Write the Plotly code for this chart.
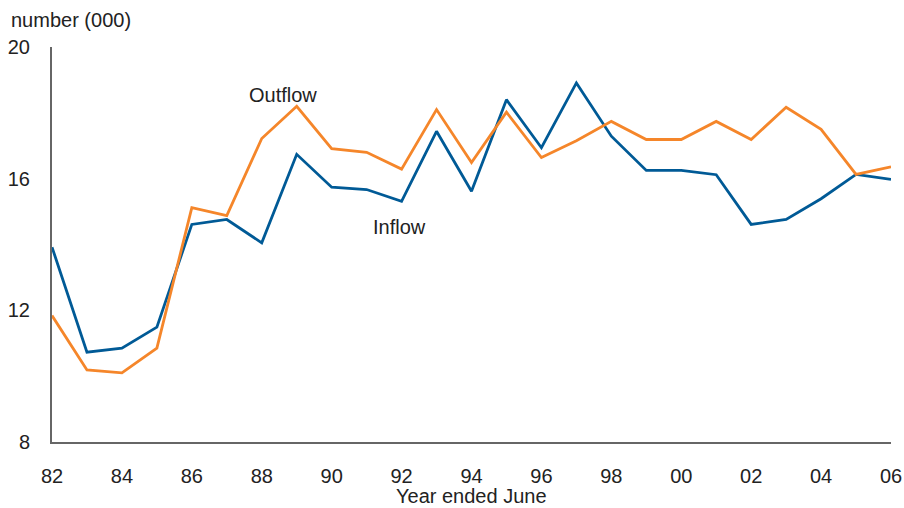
import plotly.graph_objects as go

years = list(range(1982, 2007))
inflow = [13.92, 10.73, 10.85, 11.49, 14.61, 14.76, 14.05, 16.74, 15.74, 15.67,
          15.31, 17.44, 15.62, 18.40, 16.94, 18.91, 17.29, 16.25, 16.25, 16.12,
          14.61, 14.76, 15.39, 16.13, 15.98]
outflow = [11.84, 10.19, 10.10, 10.85, 15.12, 14.88, 17.22, 18.20, 16.91, 16.80,
           16.29, 18.10, 16.49, 18.02, 16.64, 17.15, 17.74, 17.19, 17.19, 17.74,
           17.19, 18.17, 17.50, 16.13, 16.36]
tick_years = list(range(1982, 2007, 2))
tick_labels = [f"{y % 100:02d}" for y in tick_years]
y_ticks = [8, 12, 16, 20]

BLUE = "#005a96"
ORANGE = "#f5862a"
AXIS = "#666666"
TXT = "#222222"
FONT = "Liberation Sans, Arial, sans-serif"

fig = go.Figure()
fig.add_trace(go.Scatter(x=years, y=inflow, mode="lines", name="Inflow",
                         line=dict(color=BLUE, width=2.8), showlegend=False))
fig.add_trace(go.Scatter(x=years, y=outflow, mode="lines", name="Outflow",
                         line=dict(color=ORANGE, width=2.8), showlegend=False))

fig.add_annotation(x=1988.6, y=18.53, text="Outflow", showarrow=False,
                   font=dict(family=FONT, size=20, color=TXT))
fig.add_annotation(x=1991.93, y=14.52, text="Inflow", showarrow=False,
                   font=dict(family=FONT, size=20, color=TXT))
fig.add_annotation(xref="paper", yref="paper", x=0, y=1, xshift=-43, yshift=27,
                   xanchor="left", yanchor="middle", text="number (000)",
                   showarrow=False, font=dict(family=FONT, size=20, color=TXT))
fig.add_annotation(xref="paper", yref="paper", x=0.5, y=0, yshift=-54,
                   xanchor="center", yanchor="middle", text="Year ended June",
                   showarrow=False, font=dict(family=FONT, size=20, color=TXT))

fig.update_layout(
    width=904, height=508,
    margin=dict(l=52, r=13, t=47, b=66),
    paper_bgcolor="white", plot_bgcolor="white",
    font=dict(family=FONT, size=20, color=TXT),
    xaxis=dict(range=[1982, 2006], tickvals=tick_years, ticktext=tick_labels,
               showgrid=False, zeroline=False, showline=True, linecolor=AXIS,
               linewidth=2, ticks="outside", ticklen=15, tickcolor="rgba(0,0,0,0)",
               tickfont=dict(family=FONT, size=20, color=TXT),
               automargin=False),
    yaxis=dict(range=[8, 20], tickvals=y_ticks, showgrid=False, zeroline=False,
               showline=True, linecolor=AXIS, linewidth=2, ticks="outside",
               ticklen=16, tickcolor="rgba(0,0,0,0)", automargin=False,
               tickfont=dict(family=FONT, size=20, color=TXT)),
)

fig.write_html("out.html", config={"displayModeBar": False},
               post_script="document.body.style.margin='0';document.body.style.padding='0';")
